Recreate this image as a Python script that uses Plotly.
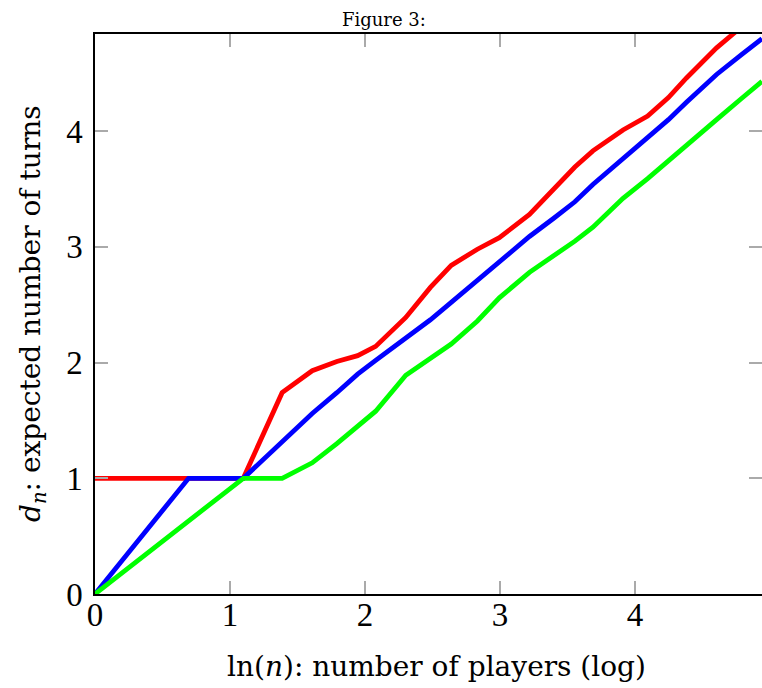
import numpy as np
import plotly.graph_objects as go

# number of players n (x axis shows ln(n))
players = [1, 2, 3, 4, 5, 6, 7, 8, 10, 12, 14, 17, 20, 25, 30, 35, 40, 50, 60, 70, 80, 100, 120, 140]

red_vals = [1.0, 1.0, 1.0, 1.74, 1.93, 2.01, 2.06, 2.14, 2.39, 2.65, 2.84, 2.98, 3.08, 3.28, 3.50,
            3.69, 3.83, 4.01, 4.13, 4.29, 4.46, 4.72, 4.90, 5.05]
blue_vals = [0.0, 1.0, 1.0, 1.31, 1.56, 1.74, 1.90, 2.02, 2.21, 2.37, 2.52, 2.71, 2.87, 3.09, 3.25,
             3.39, 3.54, 3.76, 3.95, 4.10, 4.25, 4.49, 4.66, 4.80]
green_vals = [0.0, 0.631, 1.0, 1.0, 1.134, 1.30, 1.45, 1.58, 1.89, 2.04, 2.16, 2.36, 2.56, 2.78, 2.92,
              3.05, 3.17, 3.42, 3.59, 3.74, 3.88, 4.10, 4.28, 4.43]

x_ticks = [0, 1, 2, 3, 4]
y_ticks = [0, 1, 2, 3, 4]

title_text = "Figure 3:"
x_title = "ln(<i>n</i>): number of players (log)"
y_title = "<i>d</i><sub><i>n</i></sub>: expected number of turns"

lnx = np.log(players)

TICKFONT = "Liberation Serif"
TITLEFONT = "DejaVu Serif"

fig = go.Figure()
for vals, col in [(red_vals, "#ff0000"), (blue_vals, "#0000ff"), (green_vals, "#00ff00")]:
    fig.add_trace(go.Scatter(x=lnx, y=vals, mode="lines",
                             line=dict(color=col, width=4.8), showlegend=False))

axis_common = dict(
    showgrid=False, zeroline=False, showline=True, linecolor="black", linewidth=1.5,
    mirror="ticks", ticks="inside", ticklen=13, tickcolor="#aaaaaa", tickwidth=1.5,
    tickfont=dict(family=TICKFONT, size=33, color="black"), automargin=False,
)

fig.update_layout(
    width=762, height=688,
    margin=dict(l=95, r=0, t=34, b=94, pad=0),
    paper_bgcolor="white", plot_bgcolor="white",
    xaxis=dict(range=[0, np.log(140)], tickvals=x_ticks, ticktext=[str(t) for t in x_ticks],
               ticklabelstandoff=-9, **axis_common),
    yaxis=dict(range=[0, 4.84], tickvals=y_ticks, ticktext=[str(t) for t in y_ticks],
               ticklabelstandoff=4, **axis_common),
    annotations=[
        dict(text=title_text, xref="paper", yref="paper", x=0.433, y=1.0,
             xanchor="center", yanchor="bottom", showarrow=False, yshift=2,
             font=dict(family=TITLEFONT, size=18, color="black")),
        dict(text=x_title, xref="paper", yref="paper", x=0.512, y=0,
             xanchor="center", yanchor="middle", showarrow=False, yshift=-72,
             font=dict(family=TITLEFONT, size=28, color="black")),
        dict(text=y_title, xref="paper", yref="paper", x=0, y=0.5, textangle=-90,
             xanchor="center", yanchor="middle", showarrow=False, xshift=-63,
             font=dict(family=TITLEFONT, size=28, color="black")),
    ],
)

fig.write_html("out.html", config={"displayModeBar": False},
               post_script="document.body.style.margin='0';document.body.style.overflow='hidden';")
